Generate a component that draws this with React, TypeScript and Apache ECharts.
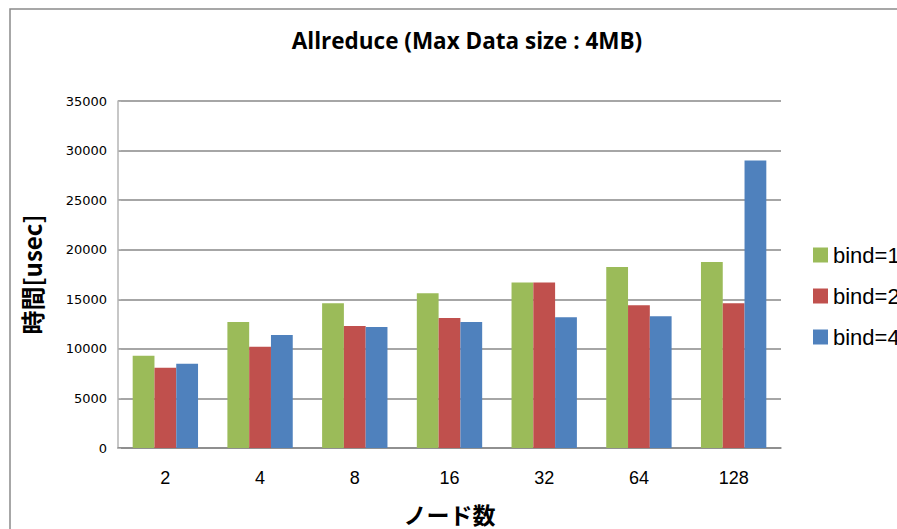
import React, { useEffect, useRef } from "react";
import * as echarts from "echarts";

const categories = ["2", "4", "8", "16", "32", "64", "128"];
const bind1 = [9300, 12700, 14600, 15600, 16700, 18250, 18750];
const bind2 = [8100, 10200, 12300, 13100, 16700, 14400, 14600];
const bind4 = [8500, 11400, 12200, 12700, 13200, 13300, 29000];
const seriesNames = ["bind=1", "bind=2", "bind=4"];
const colors = ["#9BBB59", "#C0504D", "#4F81BD"];

export default function App() {
  const ref = useRef<HTMLDivElement>(null);
  useEffect(() => {
    if (!ref.current) return;
    const chart = echarts.init(ref.current, null, { renderer: "svg" });
    const values = [bind1, bind2, bind4];
    chart.setOption({
      animation: false,
      backgroundColor: "#ffffff",
      title: {
        text: "Allreduce (Max Data size : 4MB)",
        left: 462,
        textAlign: "center",
        top: 24,
        textStyle: {
          fontFamily: "'Open Sans', sans-serif",
          fontWeight: "bold",
          fontSize: 22.5,
          color: "#000",
        },
      },
      graphic: [
        {
          type: "rect",
          shape: { x: 10, y: 9, width: 1000, height: 1000 },
          style: { fill: "none", stroke: "#8a8a8a", lineWidth: 1.5 },
          silent: true,
        },
      ],
      legend: {
        orient: "vertical",
        left: 808,
        top: 239,
        itemWidth: 15,
        itemHeight: 15,
        itemGap: 19,
        icon: "rect",
        data: seriesNames,
        textStyle: {
          fontFamily: "'Liberation Sans', Arial, sans-serif",
          fontSize: 22,
          color: "#000",
          padding: [0, 0, 0, 0],
        },
      },
      grid: { left: 118, right: 116, top: 101, bottom: 81, outerBoundsMode: "none" },
      xAxis: {
        type: "category",
        data: categories,
        name: "ノード数",
        nameLocation: "middle",
        nameGap: 54,
        nameTextStyle: {
          fontFamily: "'Noto Sans CJK JP', sans-serif",
          fontWeight: "bold",
          fontSize: 23,
          color: "#000",
        },
        axisTick: { show: false },
        axisLine: { lineStyle: { color: "#888888", width: 1.5 } },
        axisLabel: {
          margin: 21,
          fontFamily: "'Liberation Sans', Arial, sans-serif",
          fontSize: 18,
          color: "#000",
        },
      },
      yAxis: {
        type: "value",
        min: 0,
        max: 35000,
        interval: 5000,
        name: "時間[usec]",
        nameLocation: "middle",
        nameGap: 75,
        nameRotate: 90,
        nameTextStyle: {
          fontFamily: "'Noto Sans CJK JP', sans-serif",
          fontWeight: "bold",
          fontSize: 24,
          color: "#000",
        },
        axisLine: { show: true, lineStyle: { color: "#b4b4b4", width: 1.5 } },
        axisTick: { show: true, inside: true, length: 3, lineStyle: { color: "#b4b4b4" } },
        axisLabel: {
          margin: 11,
          formatter: (v: number) => String(v),
          fontFamily: "'DejaVu Sans', sans-serif",
          fontSize: 13,
          color: "#000",
        },
        splitLine: { lineStyle: { color: "#888888", width: 1.5 } },
      },
      series: seriesNames.map((name, i) => ({
        name,
        type: "bar",
        data: values[i],
        barGap: "0%",
        barCategoryGap: "31%",
        itemStyle: { color: colors[i] },
      })),
    });
    return () => chart.dispose();
  }, []);
  return (
    <div
      ref={ref}
      style={{ position: "fixed", left: 0, top: 0, width: 897, height: 529 }}
    />
  );
}
